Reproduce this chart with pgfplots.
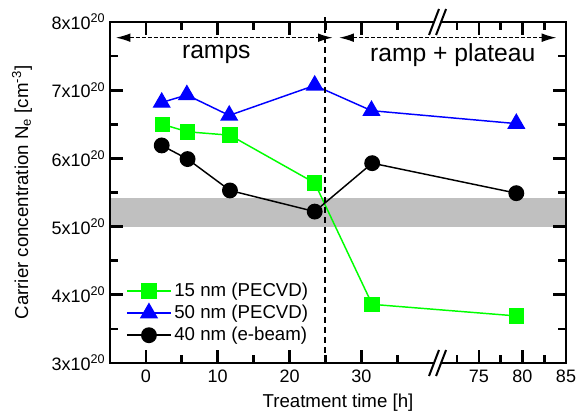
\documentclass[border=0pt]{standalone}
\usepackage{fontspec}
\setmainfont{Liberation Sans}
\usepackage{pgfplots}
\pgfplotsset{compat=1.18}
\usetikzlibrary{arrows.meta}
\definecolor{lgreen}{RGB}{0,255,0}
\definecolor{dblue}{RGB}{0,0,255}
\definecolor{band}{RGB}{192,192,192}
\begin{document}
\begin{tikzpicture}
\begin{axis}[
  scale only axis, width=342pt, height=255.75pt,
  x coord trafo/.code={\pgfmathparse{#1>50 ? 46.35+(#1-75)*1.2134 : #1}},
  xmin=-5, xmax=85, ymin=3, ymax=8,
  xtick={0,10,20,30,75,80,85}, xticklabels={0,10,20,30,75,80,85},
  minor xtick={5,15,25,35,72.5,77.5,82.5},
  ytick={3,4,5,6,7,8},
  yticklabels={3x10\textsuperscript{20},4x10\textsuperscript{20},5x10\textsuperscript{20},6x10\textsuperscript{20},7x10\textsuperscript{20},8x10\textsuperscript{20}},
  minor ytick={3.5,4.5,5.5,6.5,7.5},
  tick align=inside,
  major tick length=9.5pt, minor tick length=6pt,
  every tick/.style={black, line width=2pt},
  axis line style={line width=2.2pt},
  tick label style={font=\fontsize{13.5}{15}\selectfont},
  xticklabel style={yshift=-2pt},
  axis on top, clip=false,
  xlabel={Treatment time [h]},
  ylabel={Carrier concentration N\textsubscript{e} [cm\textsuperscript{-3}]},
  every axis x label/.style={at={(axis description cs:0.5,0)}, yshift=-30pt, anchor=center, font=\fontsize{14}{16}\selectfont},
  every axis y label/.style={at={(axis description cs:0,0.5)}, xshift=-66pt, rotate=90, anchor=center, font=\fontsize{14}{16}\selectfont},
  legend style={at={(rel axis cs:0.035,0.243)}, anchor=north west, draw=none, fill=none, font=\fontsize{14}{16}\selectfont, row sep=1pt, inner sep=0pt},
  legend cell align=left,
  legend image code/.code={\draw[mark repeat=2,mark phase=2] plot coordinates {(0pt,0pt) (16.5pt,0pt) (33pt,0pt)};},
]
\fill[band] (axis cs:-5,5) rectangle (axis cs:85,5.42);
\addplot[color=lgreen, line width=1.1pt, mark=square*, mark size=5.25pt] coordinates {
  (2.3,6.50) (5.8,6.39) (11.7,6.34) (23.5,5.64) (31.5,3.86) (79.3,3.69)};
\addlegendentry{15 nm (PECVD)}
\addplot[color=dblue, line width=1.1pt, mark=triangle*, mark size=6.8pt] coordinates {
  (2.2,6.82) (5.7,6.93) (11.6,6.63) (23.5,7.07) (31.4,6.70) (79.3,6.51)};
\addlegendentry{50 nm (PECVD)}
\addplot[color=black, line width=1.1pt, mark=*, mark size=5.4pt] coordinates {
  (2.2,6.19) (5.8,5.99) (11.7,5.53) (23.5,5.22) (31.5,5.93) (79.3,5.49)};
\addlegendentry{40 nm (e-beam)}
\draw[line width=1.5pt, dash pattern=on 4.5pt off 3pt] (axis cs:25,3) -- (axis cs:25,8.13);
\draw[line width=1pt, dash pattern=on 3pt off 1.5pt, {Latex[length=11pt,width=6.5pt]}-{Latex[length=11pt,width=6.5pt]}] (axis cs:-4.2,7.77) -- (axis cs:26,7.77);
\draw[line width=1pt, dash pattern=on 3pt off 1.5pt, {Latex[length=11pt,width=6.5pt]}-{Latex[length=11pt,width=6.5pt]}] (axis cs:26.9,7.77) -- (axis cs:83.9,7.77);
\node[font=\fontsize{18.5}{20}\selectfont] at (axis cs:9.8,7.52) {ramps};
\node[font=\fontsize{18.5}{20}\selectfont] at (axis cs:72,7.52) {ramp + plateau};
\coordinate (bb) at (axis cs:40.6,3);
\coordinate (bt) at (axis cs:40.6,8);
\coordinate (SW) at (rel axis cs:0,0);
\coordinate (NE) at (rel axis cs:1,1);
\end{axis}
\foreach \c in {bb,bt} {
  \fill[white] ([shift={(-6.4pt,-9.75pt)}]\c) -- ([shift={(1.1pt,9.75pt)}]\c) -- ([shift={(6.4pt,9.75pt)}]\c) -- ([shift={(-1.1pt,-9.75pt)}]\c) -- cycle;
  \draw[line width=1.5pt] ([shift={(-6.4pt,-9.75pt)}]\c) -- ([shift={(1.1pt,9.75pt)}]\c);
  \draw[line width=1.5pt] ([shift={(-1.1pt,-9.75pt)}]\c) -- ([shift={(6.4pt,9.75pt)}]\c);
}
\pgfresetboundingbox
\path[use as bounding box] ([shift={(-82.5pt,-40.5pt)}]SW) rectangle ([shift={(8.25pt,16.5pt)}]NE);
\end{tikzpicture}
\end{document}
